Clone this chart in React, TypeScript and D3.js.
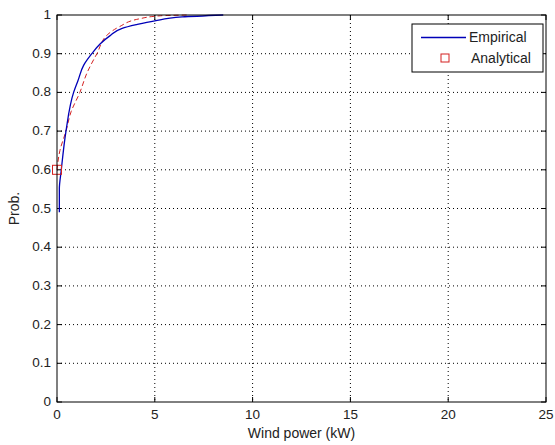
import React from "react";
import * as d3 from "d3";

const xTicks = [0, 5, 10, 15, 20, 25];
const yTicks = [0, 0.1, 0.2, 0.3, 0.4, 0.5, 0.6, 0.7, 0.8, 0.9, 1];
const yTickLabels = ["0", "0.1", "0.2", "0.3", "0.4", "0.5", "0.6", "0.7", "0.8", "0.9", "1"];

const empX = [0.12, 0.12, 0.22, 0.46, 0.85, 1.07, 1.36, 1.78, 2.2, 2.7, 3.3, 4.05, 5.0, 6.4, 8.5];
const empY = [0.49, 0.55, 0.6, 0.7, 0.8, 0.83, 0.87, 0.9, 0.925, 0.946, 0.965, 0.975, 0.985, 0.995, 1.0];

const anaX = [0, 0.15, 0.46, 0.72, 1.17, 1.53, 2.04, 2.6, 3.2, 4.2, 5.3, 6.7];
const anaY = [0.6, 0.65, 0.7, 0.75, 0.8, 0.85, 0.9, 0.95, 0.97, 0.99, 0.998, 1.0];

const markerX = [0];
const markerY = [0.6];

const W = 555, H = 445;
const L = 57, R = 546, T = 15, B = 402;

export default function App() {
  const x = d3.scaleLinear().domain([0, 25]).range([L, R]);
  const y = d3.scaleLinear().domain([0, 1]).range([B, T]);
  const line = d3.line<[number, number]>().x(d => x(d[0])).y(d => y(d[1])).curve(d3.curveMonotoneY);
  const emp = empX.map((v, i) => [v, empY[i]] as [number, number]);
  const ana = anaX.map((v, i) => [v, anaY[i]] as [number, number]);
  const font = "'Liberation Sans', Arial, sans-serif";
  const tc = "#222";
  const fs = 13.5;
  return (
    <svg width={W} height={H} style={{ position: "absolute", left: 0, top: 0, background: "#fff" }} fontFamily={font}>
      <rect x={0} y={0} width={W} height={H} fill="#fff" />
      {/* grid */}
      {xTicks.slice(1, -1).map(t => (
        <line key={"gx" + t} x1={x(t)} x2={x(t)} y1={T} y2={B} stroke="#000" strokeWidth={1} strokeDasharray="1,3" />
      ))}
      {yTicks.slice(1, -1).map(t => (
        <line key={"gy" + t} x1={L} x2={R} y1={y(t)} y2={y(t)} stroke="#000" strokeWidth={1} strokeDasharray="1,3" />
      ))}
      {/* ticks */}
      {xTicks.map(t => (
        <g key={"tx" + t}>
          <line x1={x(t)} x2={x(t)} y1={B} y2={B - 5} stroke="#000" />
          <line x1={x(t)} x2={x(t)} y1={T} y2={T + 5} stroke="#000" />
          <text x={x(t)} y={B + 17} textAnchor="middle" fontSize={fs} fill={tc}>{t}</text>
        </g>
      ))}
      {yTicks.map((t, i) => (
        <g key={"ty" + t}>
          <line x1={L} x2={L + 5} y1={y(t)} y2={y(t)} stroke="#000" />
          <line x1={R} x2={R - 5} y1={y(t)} y2={y(t)} stroke="#000" />
          <text x={L - 6} y={y(t) + 4} textAnchor="end" fontSize={fs} fill={tc}>{yTickLabels[i]}</text>
        </g>
      ))}
      {/* curves */}
      <path d={line(ana) || ""} fill="none" stroke="#d42020" strokeWidth={1} strokeDasharray="5,3" />
      <path d={line(emp) || ""} fill="none" stroke="#0000b8" strokeWidth={1.3} />
      {markerX.map((v, i) => (
        <rect key={"m" + i} x={x(v) - 4.5} y={y(markerY[i]) - 4.5} width={9} height={9} fill="none" stroke="#d42020" strokeWidth={1} />
      ))}
      {/* box */}
      <rect x={L} y={T} width={R - L} height={B - T} fill="none" stroke="#000" strokeWidth={1} />
      {/* legend */}
      <g>
        <rect x={412} y={24} width={131} height={48} fill="#fff" stroke="#000" strokeWidth={1} />
        <line x1={421} x2={466} y1={37.5} y2={37.5} stroke="#0000b8" strokeWidth={1.3} />
        <text x={469} y={42} fontSize={14} fill={tc}>Empirical</text>
        <rect x={441} y={54} width={8} height={8} fill="none" stroke="#d42020" strokeWidth={1} />
        <text x={471} y={63} fontSize={14} fill={tc}>Analytical</text>
      </g>
      {/* axis labels */}
      <text x={(L + R) / 2} y={438} textAnchor="middle" fontSize={14} fill={tc}>Wind power (kW)</text>
      <text transform={`translate(19, ${(T + B) / 2}) rotate(-90)`} textAnchor="middle" fontSize={14} fill={tc}>Prob.</text>
    </svg>
  );
}
